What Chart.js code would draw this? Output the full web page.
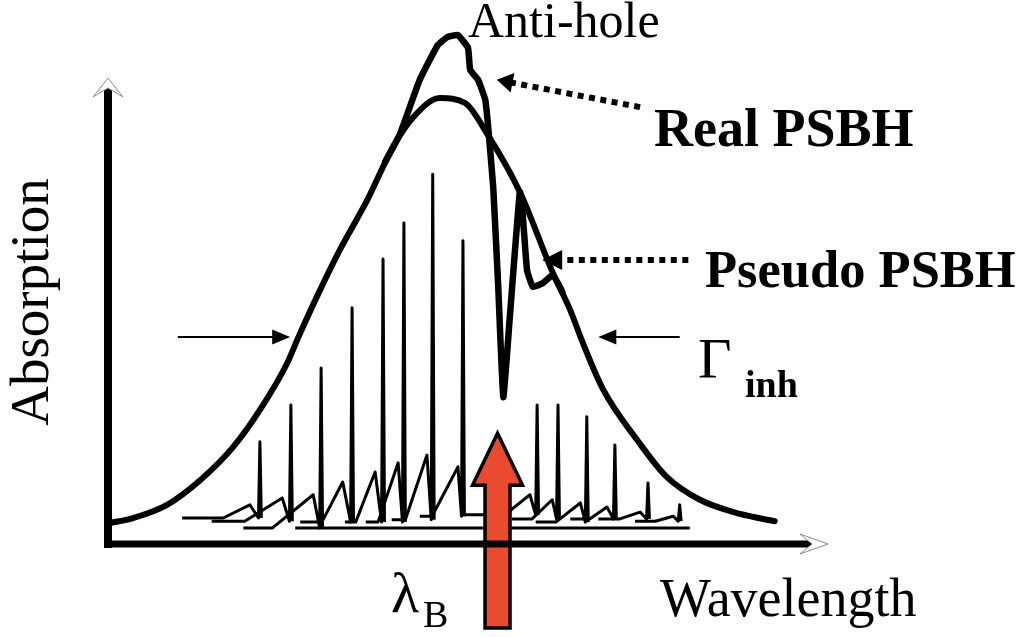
<!DOCTYPE html>
<html>
<head>
<meta charset="utf-8">
<script src="https://cdn.jsdelivr.net/npm/chart.js@4.4.1/dist/chart.umd.min.js"></script>
<style>
  html, body { margin: 0; padding: 0; background: #ffffff; }
  #wrap { width: 1022px; height: 637px; }
</style>
</head>
<body>
<div id="wrap"><canvas id="sketch" width="1022" height="637"></canvas></div>
<script>
// Spectral hole burning in an inhomogeneously broadened absorption band.
// Wavelength and absorption are in arbitrary units (both axes run 0..100).

// Inhomogeneous envelope before burning
const envX = [0.3, 3.5, 8.2, 12.8, 17.4, 21.1, 24.9, 26.4, 29.0, 32.2, 36.0, 39.6, 42.4, 46.1, 49.6, 52.6, 57.2, 61.8, 64.2, 65.8, 68.8, 73.5, 77.6, 82.2, 87.8, 92.6];
const envY = [4.6, 5.7, 8.6, 14.0, 21.3, 29.4, 39.7, 45.2, 54.2, 64.5, 75.4, 87.1, 93.6, 97.8, 96.7, 90.1, 77.2, 59.4, 51.3, 44.7, 33.8, 22.8, 14.7, 9.7, 6.6, 5.0];

// Spectrum after burning: anti-hole, real hole (ZPH + PSBH) and pseudo-PSBH
const burnX = [38.5, 40.6, 43.3, 45.8, 47.2, 48.6, 50.0, 50.3, 51.4, 52.4, 52.8, 53.5, 54.2, 54.9, 55.8, 57.2, 57.6, 58.2, 59.0, 60.4, 61.8, 63.1];
const burnY = [83.8, 90.1, 101.8, 109.4, 111.2, 111.6, 108.8, 104.0, 101.8, 97.4, 91.5, 78.3, 56.4, 32.2, 49.6, 77.2, 72.2, 60.1, 56.4, 57.2, 59.0, 55.3];

// Individual sites: zero-phonon line (position, height) and phonon sideband
const zplX     = [21.1, 25.4, 29.6, 33.9, 38.2, 41.1, 45.1, 49.3, 59.6, 62.5, 66.5, 70.4, 75.0, 79.4];
const zplY     = [22.4, 30.5, 38.6, 51.8, 62.5, 70.4, 81.1, 66.5, 30.5, 30.5, 27.9, 21.7, 13.4, 8.6];
const siteBase = [5.7, 5.0, 3.5, 4.8, 4.8, 4.8, 5.3, 6.1, 6.4, 5.5, 4.8, 5.5, 5.5, 5.0];
const psbStart = [10.3, 14.4, 18.8, 26.7, 32.9, 35.8, 39.4, 43.3, 49.2, 56.1, 59.4, 64.2, 68.1, 73.2];
const psbRise  = [16.0, 19.0, 22.8, 29.7, 34.4, 37.5, 41.3, 45.0, 55.1, 58.9, 62.2, 66.9, 71.1, 76.0];
const psbPeakX = [19.7, 24.2, 28.5, 32.6, 37.1, 40.3, 44.3, 48.6, 58.6, 61.7, 65.6, 69.3, 73.9, 78.5];
const psbPeakY = [8.6, 10.1, 10.8, 13.6, 15.8, 17.8, 19.5, 16.9, 10.8, 9.7, 9.0, 8.1, 7.0, 6.1];

// Common site baseline
const floorX = [26.0, 80.8];
const floorY = [3.5, 3.5];

// Burn wavelength, FWHM markers and label-arrow anchors
const burnLambda = 54.1;
const fwhmLevel = 45.4;
const fwhmLeftTail = 9.7, fwhmLeftTip = 25.3;
const fwhmRightTail = 79.4, fwhmRightTip = 68.1;
const realArrow = { tail: [73.9, 95.8], tip: [54.0, 101.8] };
const pseudoArrow = { tail: [80.6, 62.3], tip: [60.3, 62.3] };
const burnArrowTip = 24.3, burnArrowHead = 12.9, burnArrowEnd = -18.4;

const pts = (xs, ys) => xs.map((x, i) => ({ x, y: ys[i] }));

const datasets = [];
datasets.push({
  label: 'burnt', data: pts(burnX, burnY), showLine: true, clip: false,
  borderColor: '#000', borderWidth: 6.5, tension: 0.12,
  borderJoinStyle: 'round', borderCapStyle: 'round', pointRadius: 0
});
datasets.push({
  label: 'envelope', data: pts(envX, envY), showLine: true, clip: false,
  borderColor: '#000', borderWidth: 6, cubicInterpolationMode: 'monotone',
  borderCapStyle: 'round', pointRadius: 0
});
zplX.forEach((zx, i) => {
  datasets.push({
    label: 'site ' + (i + 1),
    data: [
      { x: psbStart[i], y: siteBase[i] },
      { x: psbRise[i], y: siteBase[i] },
      { x: psbPeakX[i], y: psbPeakY[i] },
      { x: zx - 0.2, y: siteBase[i] },
      { x: zx, y: zplY[i] },
      { x: zx + 0.2, y: siteBase[i] }
    ],
    showLine: true, clip: false, borderColor: '#000', borderWidth: 3,
    tension: 0, borderJoinStyle: 'round', pointRadius: 0
  });
});
datasets.push({
  label: 'floor', data: pts(floorX, floorY), showLine: true, clip: false,
  borderColor: '#000', borderWidth: 3, pointRadius: 0
});

function arrowLine(ctx, x0, y0, x1, y1, o) {
  const dx = x1 - x0, dy = y1 - y0, len = Math.hypot(dx, dy);
  const ux = dx / len, uy = dy / len;
  const bx = x1 - ux * o.head, by = y1 - uy * o.head;
  ctx.save();
  ctx.strokeStyle = '#000';
  ctx.fillStyle = '#000';
  ctx.lineWidth = o.width;
  ctx.lineCap = 'butt';
  ctx.setLineDash(o.dash || []);
  ctx.beginPath();
  ctx.moveTo(x0, y0);
  ctx.lineTo(bx + ux * 1, by + uy * 1);
  ctx.stroke();
  ctx.setLineDash([]);
  ctx.beginPath();
  ctx.moveTo(x1, y1);
  ctx.lineTo(bx - uy * o.half, by + ux * o.half);
  ctx.lineTo(bx + uy * o.half, by - ux * o.half);
  ctx.closePath();
  ctx.fill();
  ctx.restore();
}

const sketchPlugin = {
  id: 'sketchDecor',
  afterDraw(chart) {
    const ctx = chart.ctx;
    const xs = chart.scales.x, ys = chart.scales.y;
    const area = chart.chartArea;
    const px = v => xs.getPixelForValue(v);
    const py = v => ys.getPixelForValue(v);

    // burn laser arrow
    const cx = px(burnLambda);
    const tip = py(burnArrowTip), head = py(burnArrowHead), end = py(burnArrowEnd);
    ctx.save();
    ctx.beginPath();
    ctx.moveTo(cx, tip);
    ctx.lineTo(cx + 25, head);
    ctx.lineTo(cx + 12.5, head);
    ctx.lineTo(cx + 12.5, end);
    ctx.lineTo(cx - 12.5, end);
    ctx.lineTo(cx - 12.5, head);
    ctx.lineTo(cx - 25, head);
    ctx.closePath();
    ctx.fillStyle = '#ea4a2e';
    ctx.fill();
    ctx.lineWidth = 3.5;
    ctx.lineJoin = 'miter';
    ctx.strokeStyle = '#000';
    ctx.stroke();
    ctx.restore();

    // axes
    ctx.save();
    ctx.fillStyle = '#000';
    ctx.fillRect(area.left - 4, area.top - 1, 8, area.bottom - area.top + 5);
    ctx.fillRect(area.left - 4, area.bottom - 3.5, area.right - 14 - (area.left - 4), 7);
    ctx.lineWidth = 1;
    ctx.strokeStyle = '#8a8a8a';
    ctx.fillStyle = '#ffffff';
    // up chevron
    ctx.beginPath();
    ctx.moveTo(area.left, area.top - 10);
    ctx.lineTo(area.left + 15, area.top + 9);
    ctx.lineTo(area.left, area.top);
    ctx.lineTo(area.left - 15, area.top + 9);
    ctx.closePath();
    ctx.fill();
    ctx.stroke();
    // right chevron
    ctx.beginPath();
    ctx.moveTo(area.right, area.bottom);
    ctx.lineTo(area.right - 28, area.bottom - 10);
    ctx.lineTo(area.right - 16, area.bottom);
    ctx.lineTo(area.right - 28, area.bottom + 10);
    ctx.closePath();
    ctx.fill();
    ctx.stroke();
    ctx.restore();

    // FWHM arrows
    arrowLine(ctx, px(fwhmLeftTail), py(fwhmLevel), px(fwhmLeftTip), py(fwhmLevel), { width: 2, head: 18, half: 7.5 });
    arrowLine(ctx, px(fwhmRightTail), py(fwhmLevel), px(fwhmRightTip), py(fwhmLevel), { width: 2, head: 18, half: 7.5 });

    // dotted label arrows
    arrowLine(ctx, px(realArrow.tail[0]), py(realArrow.tail[1]), px(realArrow.tip[0]), py(realArrow.tip[1]),
      { width: 6, head: 16, half: 10, dash: [6, 5.5] });
    arrowLine(ctx, px(pseudoArrow.tail[0]), py(pseudoArrow.tail[1]), px(pseudoArrow.tip[0]), py(pseudoArrow.tip[1]),
      { width: 6, head: 20, half: 10, dash: [6, 5.5] });

    // labels
    ctx.save();
    ctx.fillStyle = '#000';
    ctx.textBaseline = 'alphabetic';
    ctx.textAlign = 'left';
    ctx.font = '50px "Liberation Serif"';
    ctx.fillText('Anti-hole', 468, 37);
    ctx.font = 'bold 54px "Liberation Serif"';
    ctx.fillText('Real PSBH', 654, 146);
    ctx.font = 'bold 52.5px "Liberation Serif"';
    ctx.fillText('Pseudo PSBH', 705, 287);
    ctx.font = '58px "Liberation Serif"';
    ctx.fillText('\u0393', 698, 378);
    ctx.font = 'bold 38px "Liberation Serif"';
    ctx.fillText('inh', 745, 397);
    ctx.font = '58px "Liberation Serif"';
    ctx.fillText('\u03BB', 391, 612);
    ctx.font = '38px "Liberation Serif"';
    ctx.fillText('B', 423, 627);
    ctx.font = '54px "Liberation Serif"';
    ctx.fillText('Wavelength', 660, 616);
    ctx.translate(48, 302);
    ctx.rotate(-Math.PI / 2);
    ctx.textAlign = 'center';
    ctx.font = '55px "Liberation Serif"';
    ctx.fillText('Absorption', 0, 0);
    ctx.restore();
  }
};

new Chart(document.getElementById('sketch'), {
  type: 'scatter',
  data: { datasets },
  options: {
    responsive: false,
    animation: false,
    devicePixelRatio: 1,
    layout: { padding: { left: 108, right: 194, top: 88, bottom: 93 } },
    scales: {
      x: { type: 'linear', min: 0, max: 100, display: false },
      y: { type: 'linear', min: 0, max: 100, display: false }
    },
    plugins: { legend: { display: false }, tooltip: { enabled: false } },
    elements: { point: { radius: 0 } }
  },
  plugins: [sketchPlugin]
});
</script>
</body>
</html>
